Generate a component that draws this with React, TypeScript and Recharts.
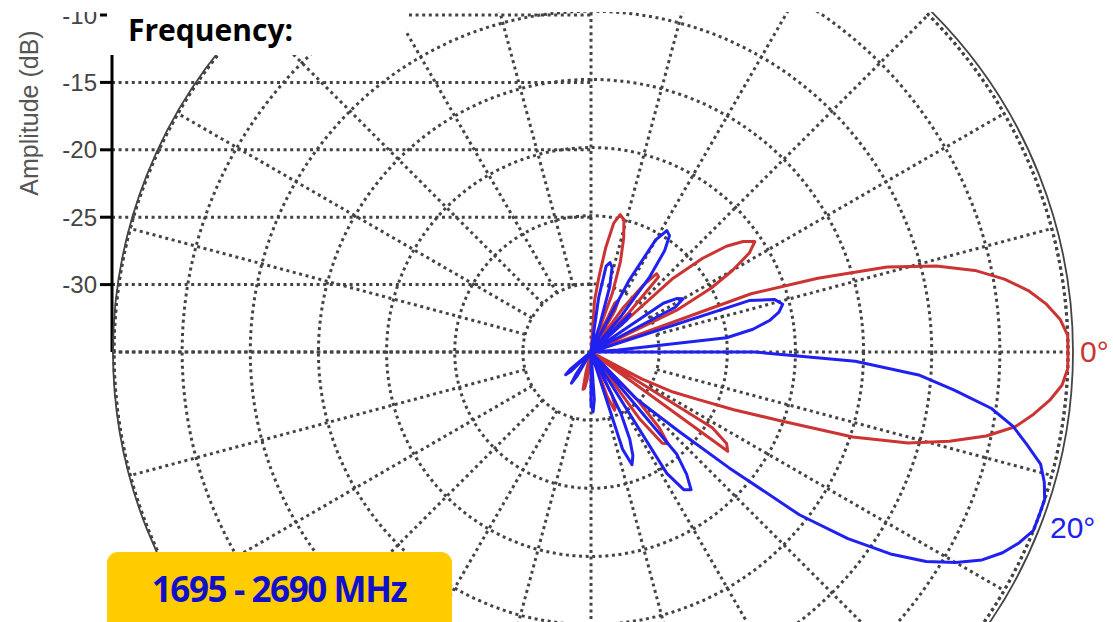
import {
  RadarChart,
  Radar,
  PolarGrid,
  PolarAngleAxis,
  PolarRadiusAxis,
  LineChart,
  Line,
  XAxis,
  YAxis,
  CartesianGrid,
} from "recharts";

// azimuth in degrees, counter-clockwise from the right-hand (0°) direction
const ANGLES = [
  -180, -178, -176, -174, -172, -170, -168, -166, -164, -162,
  -160, -158, -156, -154, -152, -150, -148, -146, -144, -142,
  -140, -138, -136, -134, -132, -130, -128, -126, -124, -122,
  -120, -118, -116, -114, -112, -110, -108, -106, -104, -102,
  -100, -98, -96, -94, -92, -90, -88, -86, -84, -82,
  -80, -78, -76, -74, -72, -70, -68, -66, -64, -62,
  -60, -58, -56, -54, -52, -50, -48, -46, -44, -42,
  -40, -38, -36, -34, -32, -30, -28, -26, -24, -22,
  -20, -18, -16, -14, -12, -10, -8, -6, -4, -2,
  0, 2, 4, 6, 8, 10, 12, 14, 16, 18,
  20, 22, 24, 26, 28, 30, 32, 34, 36, 38,
  40, 42, 44, 46, 48, 50, 52, 54, 56, 58,
  60, 62, 64, 66, 68, 70, 72, 74, 76, 78,
  80, 82, 84, 86, 88, 90, 92, 94, 96, 98,
  100, 102, 104, 106, 108, 110, 112, 114, 116, 118,
  120, 122, 124, 126, 128, 130, 132, 134, 136, 138,
  140, 142, 144, 146, 148, 150, 152, 154, 156, 158,
  160, 162, 164, 166, 168, 170, 172, 174, 176, 178,
];

// amplitude in dB, 0° electrical tilt
const TILT_0 = [
  -35, -35, -35, -35, -35, -35, -35, -35, -35, -35,
  -35, -35, -35, -35, -35, -35, -35, -35, -35, -35,
  -35, -35, -35, -35, -35, -35, -35, -35, -35, -35,
  -35, -35, -35, -35, -35, -35, -35, -35, -33.5, -32.2,
  -32.3, -33, -35, -35, -35, -35, -35, -35, -35, -35,
  -35, -35, -35, -35, -35, -31.5, -30.4, -30.6, -31.5, -35,
  -35, -35, -35, -29, -26.5, -26.2, -27.5, -30, -35, -35,
  -35, -35, -22.6, -23, -24.5, -35, -30.8, -28.3, -26.5, -23.7,
  -20.3, -14.8, -10.8, -7.9, -5.35, -3.4, -2.2, -1.15, -0.35, 0,
  0, 0, -0.5, -1.4, -2.6, -4.2, -6.2, -8.9, -12.4, -17.5,
  -22.5, -35, -35, -28, -25, -23, -21.3, -20.5, -21.2, -22.4,
  -24.3, -27, -35, -31, -27.6, -27.5, -28.8, -31, -35, -35,
  -31.5, -30.7, -31, -35, -35, -30.4, -28, -26.3, -25, -24.7,
  -25.4, -27.3, -29.5, -31.2, -35, -35, -35, -35, -35, -35,
  -35, -35, -35, -35, -35, -35, -35, -35, -35, -35,
  -35, -35, -35, -35, -35, -35, -35, -35, -35, -35,
  -35, -35, -35, -35, -35, -35, -35, -35, -35, -35,
  -35, -35, -35, -35, -35, -35, -35, -35, -35, -35,
];

// amplitude in dB, 20° electrical tilt
const TILT_20 = [
  -35, -35, -35, -35, -35, -35, -35, -35, -35, -35,
  -35, -35, -35, -35, -35, -35, -35, -35, -35, -35,
  -33, -32.5, -33, -35, -35, -35, -35, -35, -33, -32.3,
  -33, -35, -35, -35, -35, -35, -35, -35, -35, -35,
  -35, -35, -35, -35, -35, -31.2, -30.6, -31.5, -35, -35,
  -35, -35, -35, -35, -27.5, -26.2, -26.8, -28, -30, -35,
  -35, -24.5, -22.8, -22.5, -23.6, -25.2, -35, -30.3, -28.8, -26.2,
  -21.8, -15.6, -11.7, -8.5, -6, -4.1, -2.5, -1.4, -0.6, 0,
  0, 0, -0.4, -1, -2.3, -3.55, -5.35, -8.2, -10.9, -15.6,
  -23, -35, -33, -25, -23, -21.7, -20.9, -20.5, -21, -22.8,
  -35, -35, -35, -35, -28, -27.2, -27.6, -28.6, -35, -35,
  -35, -31.5, -31, -35, -35, -31.5, -28, -25.8, -24.7, -24.5,
  -25.5, -29, -35, -35, -35, -35, -33, -30, -28.6, -28.3,
  -28.6, -31, -35, -35, -35, -35, -35, -35, -35, -35,
  -35, -35, -35, -35, -35, -35, -35, -35, -35, -35,
  -35, -35, -35, -35, -35, -35, -35, -35, -35, -35,
  -35, -35, -35, -35, -35, -35, -35, -35, -35, -35,
  -35, -35, -35, -35, -35, -35, -35, -35, -35, -35,
];

const DB_MIN = -35;
const DB_MAX = 0;
const RING_DB = [-30, -25, -20, -15, -10, -5, 0];
const AMP_TICKS = [-30, -25, -20, -15, -10];
const AXIS_SPOKES = [0, 90, 180, 270];
const SPOKES = [15, 30, 45, 60, 75, 105, 120, 135, 150, 165, 195, 210, 225, 240, 255, 285, 300, 315, 330, 345];

const W = 1113;
const H = 622;
const CX = 591;
const CY = 352;
const R = 477;

const ringR = (db: number) => ((db - DB_MIN) / (DB_MAX - DB_MIN)) * R;
const RINGS = RING_DB.map(ringR);

const data = ANGLES.map((a, i) => ({ angle: a, tilt0: TILT_0[i], tilt20: TILT_20[i] }));

const grid = { stroke: "#444", strokeWidth: 3, strokeDasharray: "3 3.6" };
const layer: React.CSSProperties = { position: "absolute", left: 0, top: 0 };

function Polar({
  children,
  cx = CX,
  inner = 0,
  outer = R,
}: {
  children: React.ReactNode;
  cx?: number;
  inner?: number;
  outer?: number;
}) {
  return (
    <div style={layer}>
      <RadarChart
        width={W}
        height={H}
        data={data}
        cx={cx}
        cy={CY}
        innerRadius={inner}
        outerRadius={outer}
        startAngle={-180}
        endAngle={180}
        margin={{ top: 0, right: 0, bottom: 0, left: 0 }}
      >
        <PolarAngleAxis
          dataKey="angle"
          type="number"
          domain={[-180, 180]}
          tick={false}
          axisLine={false}
          tickLine={false}
        />
        <PolarRadiusAxis domain={[DB_MIN, DB_MAX]} tick={false} axisLine={false} />
        {children}
      </RadarChart>
    </div>
  );
}

export default function App() {
  return (
    <div style={{ position: "absolute", left: 0, top: 0, width: W, height: H, overflow: "hidden", background: "#fff" }}>
      {/* amplitude scale on the left with its horizontal guides */}
      <div style={layer}>
        <LineChart
          width={W}
          height={H}
          data={AMP_TICKS.map((v) => ({ amp: v }))}
          margin={{ top: 15, right: W - CX, bottom: H - CY, left: 0 }}
        >
          <CartesianGrid vertical={false} {...grid} />
          <XAxis dataKey="amp" hide />
          <YAxis
            type="number"
            domain={[DB_MIN, -10]}
            ticks={AMP_TICKS}
            interval={0}
            width={112}
            axisLine={{ stroke: "#000", strokeWidth: 3 }}
            tickLine={{ stroke: "#000", strokeWidth: 3 }}
            tickSize={12}
            tickMargin={3}
            tick={{ fill: "#444", fontSize: 24, fontFamily: "Liberation Sans, Arial, sans-serif" }}
          />
          <Line dataKey="amp" stroke="none" dot={false} activeDot={false} isAnimationActive={false} />
        </LineChart>
      </div>

      {/* rings and the spokes that start at the first ring */}
      <Polar inner={RINGS[0]}>
        <PolarGrid gridType="circle" polarAngles={SPOKES} polarRadius={RINGS} {...grid} />
      </Polar>

      {/* solid outer boundary */}
      <Polar cx={CX + 2} outer={R + 3}>
        <PolarGrid gridType="circle" radialLines={false} polarAngles={[0]} polarRadius={[R + 3]} stroke="#444" strokeWidth={1.8} />
      </Polar>

      {/* through-centre axes and the two patterns */}
      <Polar>
        <PolarGrid gridType="circle" polarAngles={AXIS_SPOKES} polarRadius={[R]} {...grid} />
        <Radar dataKey="tilt0" stroke="#CC3333" strokeWidth={3} strokeLinejoin="round" fill="none" dot={false} isAnimationActive={false} />
        <Radar dataKey="tilt20" stroke="#2020F0" strokeWidth={3} strokeLinejoin="round" fill="none" dot={false} isAnimationActive={false} />
      </Polar>

      <svg width={W} height={H} style={layer}>
        <rect x={0} y={0} width={W} height={12} fill="#fff" />
        <rect x={107} y={0} width={299} height={55} fill="#fff" />
        <text x={128} y={41} fontFamily="Open Sans" fontWeight={700} fontSize={30} fill="#000">
          Frequency:
        </text>
        <text
          transform="translate(38,113) rotate(-90)"
          textAnchor="middle"
          fontFamily="Liberation Sans, Arial, sans-serif"
          fontSize={25}
          fill="#555"
        >
          Amplitude (dB)
        </text>
        <text x={1080} y={362} fontFamily="Liberation Sans, Arial, sans-serif" fontSize={30} fill="#CC3333">
          0°
        </text>
        <text x={1050} y={538} fontFamily="Liberation Sans, Arial, sans-serif" fontSize={30} fill="#2020F0">
          20°
        </text>
        <rect x={107} y={552} width={345} height={90} rx={11} fill="#FFCC00" />
        <text
          x={279}
          y={602}
          textAnchor="middle"
          fontFamily="Open Sans"
          fontWeight={700}
          fontSize={35}
          letterSpacing={-1.4}
          fill="#1010C8"
        >
          1695 - 2690 MHz
        </text>
      </svg>
    </div>
  );
}
